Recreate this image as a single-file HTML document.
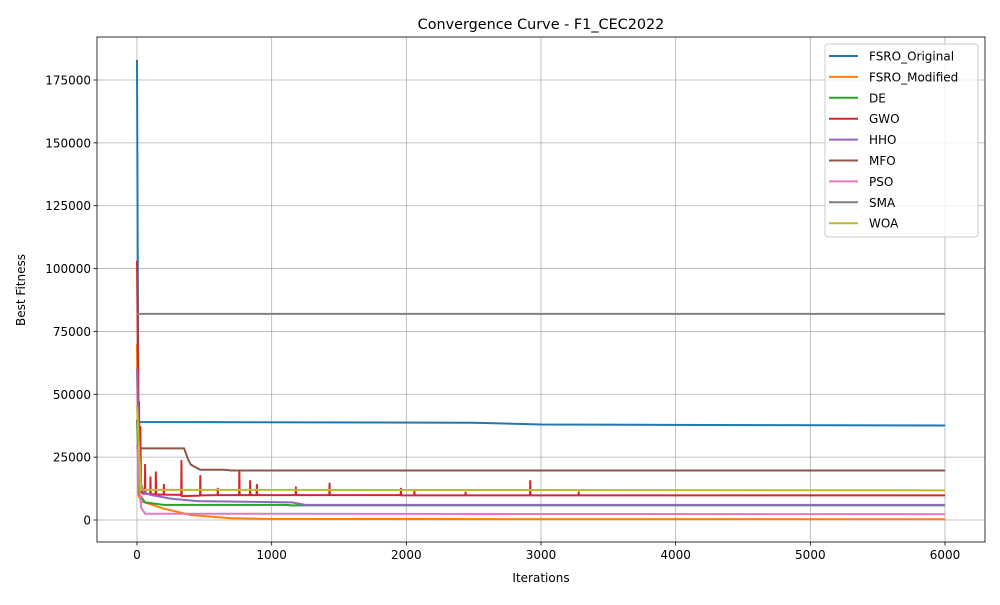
<!DOCTYPE html>
<html><head><meta charset="utf-8"><style>
body{margin:0;background:#fff;font-family:"Liberation Sans","DejaVu Sans",sans-serif}
svg text{font-family:"DejaVu Sans","Liberation Sans",sans-serif}
</style></head><body>
<svg id="c" width="1000" height="600" xmlns="http://www.w3.org/2000/svg">
<rect width="1000" height="600" fill="#fff"/>
<g id="grid"></g><g id="series"></g><g id="axes"></g><g id="legend"></g>
</svg>
<script>
const xTicks=[0,1000,2000,3000,4000,5000,6000];
const yTicks=[0,25000,50000,75000,100000,125000,150000,175000];
const seriesNames=["FSRO_Original","FSRO_Modified","DE","GWO","HHO","MFO","PSO","SMA","WOA"];
const seriesColors=["#1f77b4","#ff7f0e","#2ca02c","#d62728","#9467bd","#8c564b","#e377c2","#7f7f7f","#bcbd22"];
const fsroOrigIter=[0,10,2500,3000,4200,6000];
const fsroOrigVal=[183000,39000,38700,38000,37800,37600];
const fsroModIter=[0,10,30,200,400,700,1000,6000];
const fsroModVal=[70000,10000,7500,4500,2000,700,400,300];
const deIter=[0,20,60,200,1100,1150,6000];
const deVal=[40000,10000,7000,6000,6000,5800,5800];
const gwoIter=[0,10,15,20,25,30,35,45,58,60,62,98,100,102,138,140,142,198,200,202,328,330,332,468,470,472,598,600,602,758,760,762,838,840,842,888,890,892,1178,1180,1182,1428,1430,1432,1958,1960,1962,2058,2060,2062,2438,2440,2442,2918,2920,2922,3278,3280,3282,6000];
const gwoVal=[103000,45000,47000,15000,37000,12000,11000,10500,10500,22000,10500,10300,17000,10300,10200,19000,10200,10100,14000,10100,10000,23500,9500,9700,17500,9800,9900,12500,9900,9900,19500,9900,9900,15500,9900,9900,14000,9900,9900,13000,9900,9900,14500,9900,9900,12500,9800,9800,11500,9800,9800,11000,9800,9800,15500,9800,9800,11000,9800,9800];
const hhoIter=[0,20,50,100,250,450,1150,1250,6000];
const hhoVal=[60000,16000,11000,10000,8500,7500,7000,6000,6000];
const mfoIter=[0,20,350,380,400,470,650,700,6000];
const mfoVal=[40000,28500,28500,24000,22000,20000,20000,19700,19700];
const psoIter=[0,30,60,6000];
const psoVal=[30000,5000,2500,2300];
const smaIter=[0,6000];
const smaVal=[82000,82000];
const woaIter=[0,30,6000];
const woaVal=[45000,12000,11800];
const allIter=[fsroOrigIter,fsroModIter,deIter,gwoIter,hhoIter,mfoIter,psoIter,smaIter,woaIter];
const allVal=[fsroOrigVal,fsroModVal,deVal,gwoVal,hhoVal,mfoVal,psoVal,smaVal,woaVal];

const L=97,R=985,T=37,B=542;
const sx=v=>137+v*(808/6000);
const sy=v=>520-v*(440/175000);
const NS="http://www.w3.org/2000/svg";
function mk(tag,attrs,parent,text){const e=document.createElementNS(NS,tag);for(const k in attrs)e.setAttribute(k,attrs[k]);if(text!==undefined)e.textContent=text;parent.appendChild(e);return e;}
const grid=document.getElementById('grid'),axes=document.getElementById('axes'),ser=document.getElementById('series'),leg=document.getElementById('legend');
xTicks.forEach(t=>{const x=sx(t);
 const g=mk('line',{x1:x,x2:x,y1:T,y2:B,stroke:'#b0b0b0','stroke-width':0.8},grid);
 
 mk('line',{x1:x,x2:x,y1:B,y2:B+3.5,stroke:'#000','stroke-width':0.8},axes);
 const tx=mk('text',{x:x,y:B+17,'font-size':12,'text-anchor':'middle'},axes,String(t));
 });
yTicks.forEach(t=>{const y=sy(t);
 const g=mk('line',{x1:L,x2:R,y1:y,y2:y,stroke:'#b0b0b0','stroke-width':0.8},grid);
 
 mk('line',{x1:L-3.5,x2:L,y1:y,y2:y,stroke:'#000','stroke-width':0.8},axes);
 const tx=mk('text',{x:L-6,y:y+4.5,'font-size':12,'text-anchor':'end'},axes,String(t));
 });
allIter.forEach((its,i)=>{
 const d=its.map((it,j)=>(j?'L':'M')+sx(it).toFixed(2)+','+sy(allVal[i][j]).toFixed(2)).join('');
 const p=mk('path',{d:d,fill:'none',stroke:seriesColors[i],'stroke-width':2,'stroke-linejoin':'round'},ser);
 
 });
const fr=mk('rect',{x:L,y:T,width:R-L,height:B-T,fill:'none',stroke:'#000','stroke-width':0.8},axes);

const ti=mk('text',{x:541,y:29,'font-size':14.4,'text-anchor':'middle'},axes,'Convergence Curve - F1_CEC2022');

const xl=mk('text',{x:541,y:582,'font-size':12,'text-anchor':'middle'},axes,'Iterations');

const yl=mk('text',{x:25,y:290,'font-size':12,'text-anchor':'middle',transform:'rotate(-90 25 290)'},axes,'Best Fitness');

const lb=mk('rect',{x:825,y:44,width:153,height:193,rx:3,fill:'#fff','fill-opacity':0.8,stroke:'#ccc','stroke-width':1},leg);

seriesNames.forEach((n,i)=>{const y=56+i*20.9;
 const g=mk('g',{},leg);
 
 mk('line',{x1:829,x2:858,y1:y,y2:y,stroke:seriesColors[i],'stroke-width':2},g);
 mk('text',{x:869,y:y+4.5,'font-size':12},g,n);});
</script>
</body></html>
